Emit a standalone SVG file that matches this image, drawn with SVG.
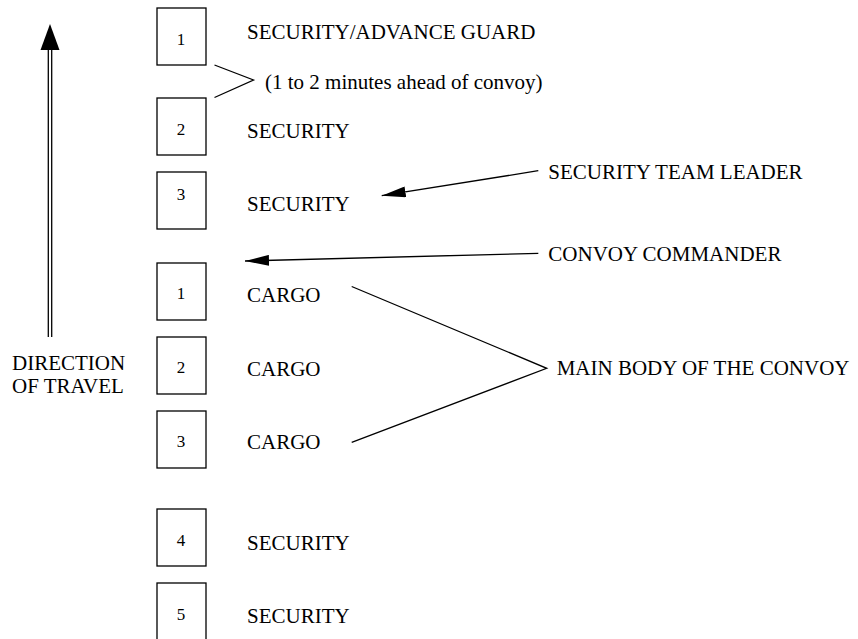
<svg xmlns="http://www.w3.org/2000/svg" width="858" height="639" viewBox="0 0 858 639">
<style>
.box{fill:#fff;stroke:#000;stroke-width:1.3}
.num{font-family:"Liberation Serif","Times New Roman",serif;font-size:17px;fill:#000;text-anchor:middle}
.lbl{font-family:"Liberation Serif","Times New Roman",serif;font-size:21px;fill:#000}
.ln{fill:none;stroke:#000;stroke-width:1.3}
</style>
<defs>
<marker id="ah" viewBox="0 0 24 11" refX="24" refY="5.5" markerWidth="24" markerHeight="11" markerUnits="userSpaceOnUse" orient="auto">
<path d="M0,0 L24,5.5 L0,11 z" fill="#000"/>
</marker>
</defs>
<rect width="858" height="639" fill="#fff"/>
<g id="direction">
<line class="ln" x1="48.3" y1="49" x2="48.3" y2="337"/>
<line class="ln" x1="51.7" y1="49" x2="51.7" y2="337"/>
<polygon points="50,24 40.5,50 59.5,50" fill="#000"/>
<text class="lbl" x="12" y="370">DIRECTION</text>
<text class="lbl" x="12" y="393">OF TRAVEL</text>
</g>
<g id="sec1">
<rect class="box" x="157" y="8" width="49" height="57"/>
<text class="num" x="181" y="45">1</text>
<text class="lbl" x="247" y="39">SECURITY/ADVANCE GUARD</text>
</g>
<g id="sec2">
<rect class="box" x="157" y="98" width="49" height="57"/>
<text class="num" x="181" y="135">2</text>
<text class="lbl" x="247" y="138">SECURITY</text>
</g>
<g id="sec3">
<rect class="box" x="157" y="172" width="49" height="57"/>
<text class="num" x="181" y="200">3</text>
<text class="lbl" x="247" y="211">SECURITY</text>
</g>
<g id="cargo1">
<rect class="box" x="157" y="263" width="49" height="57"/>
<text class="num" x="181" y="299">1</text>
<text class="lbl" x="247" y="302">CARGO</text>
</g>
<g id="cargo2">
<rect class="box" x="157" y="337" width="49" height="57"/>
<text class="num" x="181" y="372.5">2</text>
<text class="lbl" x="247" y="375.5">CARGO</text>
</g>
<g id="cargo3">
<rect class="box" x="157" y="411" width="49" height="57"/>
<text class="num" x="181" y="447">3</text>
<text class="lbl" x="247" y="449">CARGO</text>
</g>
<g id="sec4">
<rect class="box" x="157" y="509" width="49" height="57"/>
<text class="num" x="181" y="545.5">4</text>
<text class="lbl" x="247" y="549.5">SECURITY</text>
</g>
<g id="sec5">
<rect class="box" x="157" y="583" width="49" height="57"/>
<text class="num" x="181" y="620">5</text>
<text class="lbl" x="247" y="622.5">SECURITY</text>
</g>
<g id="annotations">
<text class="lbl" x="265" y="88.5">(1 to 2 minutes ahead of convoy)</text>
<text class="lbl" x="548.3" y="179.3">SECURITY TEAM LEADER</text>
<text class="lbl" x="548.3" y="260.7">CONVOY COMMANDER</text>
<text class="lbl" x="556.7" y="375">MAIN BODY OF THE CONVOY</text>
</g>
<g id="connectors">
<polyline class="ln" points="214.5,65 253.5,80 214.5,97.5"/>
<line class="ln" x1="538.3" y1="170.7" x2="381.7" y2="195.7" marker-end="url(#ah)"/>
<line class="ln" x1="538.3" y1="253.3" x2="245" y2="261" marker-end="url(#ah)"/>
<polyline class="ln" points="351.7,286.5 546.7,368.3 351.7,442.3"/>
</g>
</svg>
